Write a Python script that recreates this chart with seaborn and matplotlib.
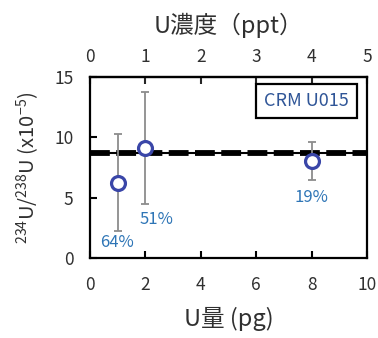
import matplotlib
matplotlib.use("Agg")
import matplotlib.pyplot as plt
import seaborn as sns
import pandas as pd

# Measured 234U/238U ratios (x1e-5) for CRM U015 at several U amounts
u_amount_pg = [1, 2, 8]
ratio = [6.2, 9.1, 8.0]
err_low = [2.2, 4.5, 6.5]
err_high = [10.3, 13.8, 9.6]
rsd_labels = ["64%", "51%", "19%"]
certified_ratio = 8.7

sns.set_style("ticks")
plt.rcParams["font.family"] = ["Noto Sans CJK JP", "DejaVu Sans"]
plt.rcParams["mathtext.fontset"] = "custom"
plt.rcParams["mathtext.rm"] = "Noto Sans CJK JP"

df = pd.DataFrame({"amount": u_amount_pg, "ratio": ratio})

fig = plt.figure(figsize=(3.78, 3.38), dpi=100)
ax = fig.add_axes([0.238, 0.237, 0.733, 0.535])

# certified value: thin solid line with thick dashes over it
ax.axhline(certified_ratio, color="black", lw=1.5, zorder=2)
ax.axhline(certified_ratio, color="black", lw=4.2, dashes=(3.4, 1.1), zorder=2)

yerr = [[r - lo for r, lo in zip(ratio, err_low)],
        [hi - r for r, hi in zip(ratio, err_high)]]
ax.errorbar(u_amount_pg, ratio, yerr=yerr, fmt="none", ecolor="#8c8c8c",
            elinewidth=1.3, capsize=3, capthick=1.3, zorder=3)
sns.scatterplot(data=df, x="amount", y="ratio", ax=ax, s=100, marker="o",
                facecolor="white", edgecolor="#3a46a8", linewidth=2.3, zorder=4)

label_pos = [(0.97, 1.25), (2.4, 3.2), (8.0, 5.0)]
for (lx, ly), txt in zip(label_pos, rsd_labels):
    ax.text(lx, ly, txt, color="#2e75b6", fontsize=12, ha="center", va="center")

ax.text(0.78, 0.867, "CRM U015", transform=ax.transAxes, ha="center", va="center",
        color="#2f5597", fontsize=13,
        bbox=dict(boxstyle="square,pad=0.45", fc="white", ec="black", lw=1.6))

ax.set_xlim(0, 10)
ax.set_ylim(0, 15)
ax.set_xticks([0, 2, 4, 6, 8, 10])
ax.set_yticks([0, 5, 10, 15])
ax.tick_params(axis="x", direction="in", length=5, width=1.5, labelsize=12.5,
               colors="black", labelcolor="#303030", pad=13)
ax.tick_params(axis="y", direction="in", length=5, width=1.5, labelsize=12.5,
               colors="black", labelcolor="#303030", pad=12)
for s in ax.spines.values():
    s.set_linewidth(1.6)
    s.set_color("black")

ax.set_xlabel("U量 (pg)", fontsize=17, color="#303030", labelpad=9)
ax.set_ylabel(r"$^{234}$U/$^{238}$U (x10$^{-5}$)", fontsize=14.5, color="#303030", labelpad=9)

top = ax.secondary_xaxis("top", functions=(lambda x: x / 2, lambda x: x * 2))
top.set_xticks([0, 1, 2, 3, 4, 5])
top.tick_params(direction="in", length=5, width=1.5, labelsize=12.5,
                labelcolor="#303030", pad=8)
top.set_xlabel("U濃度（ppt）", fontsize=17, color="#303030", labelpad=11)
top.spines["top"].set_linewidth(1.6)

fig.savefig("out.png", dpi=100)
